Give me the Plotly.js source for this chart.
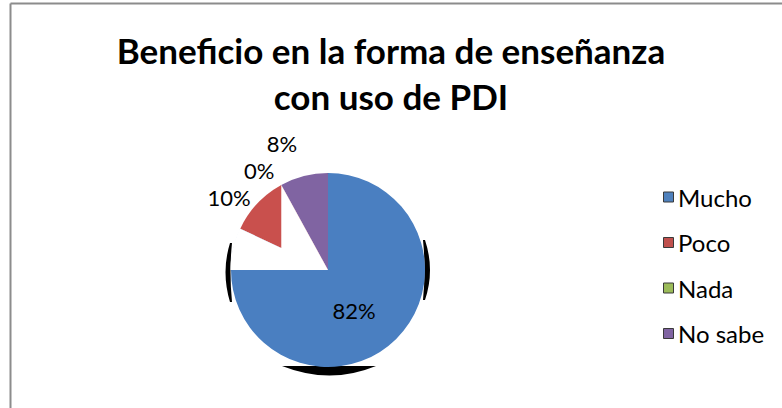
<!DOCTYPE html>
<html>
<head>
<meta charset="utf-8">
<script src="https://cdn.plot.ly/plotly-3.0.1.min.js"></script>
<style>
html,body{margin:0;padding:0;background:#fff;}
#chart{width:782px;height:408px;}
#chart path.textline{display:none !important;}
</style>
</head>
<body>
<div id="chart"></div>
<script>
const categories = ['Mucho', 'Poco', 'Nada', 'No sabe'];
const values = [82, 10, 0, 8];
const colors = ['#4A7FC1', '#C9504D', '#9BBB59', '#8064A2'];
const legendColors = ['#4F81BD', '#C0504D', '#9BBB59', '#8064A2'];
const titleText = 'Beneficio en la forma de enseñanza<br>con uso de PDI';

const W = 782, H = 408;
const px = x => x / W;
const py = y => 1 - y / H;

// pie placement (pixels)
const CX = 328, CY = 270, R = 97;

const pie = {
  type: 'pie',
  labels: categories,
  values: values,
  sort: false,
  direction: 'clockwise',
  rotation: 0,
  marker: {colors: colors, line: {width: 0}},
  textinfo: 'percent',
  texttemplate: '%{percent:.0%}',
  textposition: ['inside', 'outside', 'outside', 'outside'],
  insidetextorientation: 'horizontal',
  textfont: {family: 'Lato, sans-serif', size: 22, color: '#000'},
  outsidetextfont: {family: 'Lato, sans-serif', size: 22, color: '#000'},
  insidetextfont: {family: 'Lato, sans-serif', size: 22, color: '#000'},
  domain: {x: [px(CX - R), px(CX + R)], y: [py(CY + R), py(CY - R)]},
  showlegend: false,
  hoverinfo: 'label+percent'
};

// helpers for decorative 3D artefacts (paper coordinates)
const P = (x, y) => px(x).toFixed(5) + ',' + py(y).toFixed(5);
const total = values.reduce((a, b) => a + b, 0);
const angAt = frac => frac * 2 * Math.PI; // clockwise from 12 o'clock
const ptAt = (a, r) => [CX + r * Math.sin(a), CY - r * Math.cos(a)];

// white cut-out seen in the reference (between 9 o'clock and the Poco/No sabe edge)
const a1 = angAt(values[0] / total);                           // Mucho / Poco boundary
const a2 = angAt((values[0] + values[1] + values[2]) / total); // Poco / No sabe boundary
const pA = ptAt(a1, R), pB = ptAt(a2, R);
const t = (CX - pB[0]) / (CX - pA[0]);
const pC = [pB[0], CY + (pA[1] - CY) * t];
let cut = 'M ' + P(CX, CY) + ' L ' + P(CX - R, CY);
for (let k = 0; k <= 12; k++) {
  const a = 1.5 * Math.PI + (a1 - 1.5 * Math.PI) * k / 12;
  const q = ptAt(a, R + 0.5);
  cut += ' L ' + P(q[0], q[1]);
}
cut += ' L ' + P(pC[0], pC[1]) + ' L ' + P(pB[0], pB[1]) + ' Z';

const shapes = [
  {type: 'line', xref: 'paper', yref: 'paper', x0: px(10.5), x1: px(10.5), y0: py(3.5), y1: py(410), line: {color: '#8C8C8C', width: 2}},
  {type: 'line', xref: 'paper', yref: 'paper', x0: px(10.5), x1: px(790), y0: py(3.5), y1: py(3.5), line: {color: '#8C8C8C', width: 2}},
  // dark rim artefacts
  {type: 'path', xref: 'paper', yref: 'paper', layer: 'below', fillcolor: '#000', line: {width: 0},
    path: 'M ' + P(230, 243) + ' Q ' + P(221, 272) + ' ' + P(230, 302) + ' L ' + P(232, 302) + ' Q ' + P(229, 272) + ' ' + P(232, 243) + ' Z'},
  {type: 'path', xref: 'paper', yref: 'paper', layer: 'below', fillcolor: '#000', line: {width: 0},
    path: 'M ' + P(425, 240) + ' Q ' + P(435, 270) + ' ' + P(425, 300) + ' L ' + P(423, 300) + ' Q ' + P(426, 270) + ' ' + P(423, 240) + ' Z'},
  {type: 'path', xref: 'paper', yref: 'paper', layer: 'below', fillcolor: '#000', line: {width: 0},
    path: 'M ' + P(282, 366) + ' L ' + P(376, 366) + ' Q ' + P(330, 385) + ' ' + P(282, 366) + ' Z'},
  {type: 'path', xref: 'paper', yref: 'paper', fillcolor: '#fff', line: {width: 0}, path: cut}
];
const annotations = [];
const legendTop = 197, legendStep = 45.5;
categories.forEach((c, i) => {
  const cy = legendTop + i * legendStep;
  shapes.push({type: 'rect', xref: 'paper', yref: 'paper',
    x0: px(663.5), x1: px(673.5), y0: py(cy - 5), y1: py(cy + 5),
    fillcolor: legendColors[i], line: {color: '#3A3A3A', width: 1}});
  annotations.push({xref: 'paper', yref: 'paper', x: px(676), y: py(cy), xanchor: 'left', yanchor: 'middle',
    text: c, showarrow: false, font: {family: 'Lato, sans-serif', size: 24, color: '#000'}});
});

const layout = {
  width: W, height: H,
  margin: {l: 0, r: 0, t: 0, b: 0},
  paper_bgcolor: '#fff',
  title: {text: titleText, x: 0.5, xanchor: 'center', y: py(64), yanchor: 'top',
    font: {family: 'Lato, sans-serif', size: 35, color: '#000', weight: 'bold'}},
  shapes: shapes,
  annotations: annotations,
  showlegend: false
};

Plotly.newPlot('chart', [pie], layout, {displayModeBar: false, staticPlot: true});
</script>
</body>
</html>
